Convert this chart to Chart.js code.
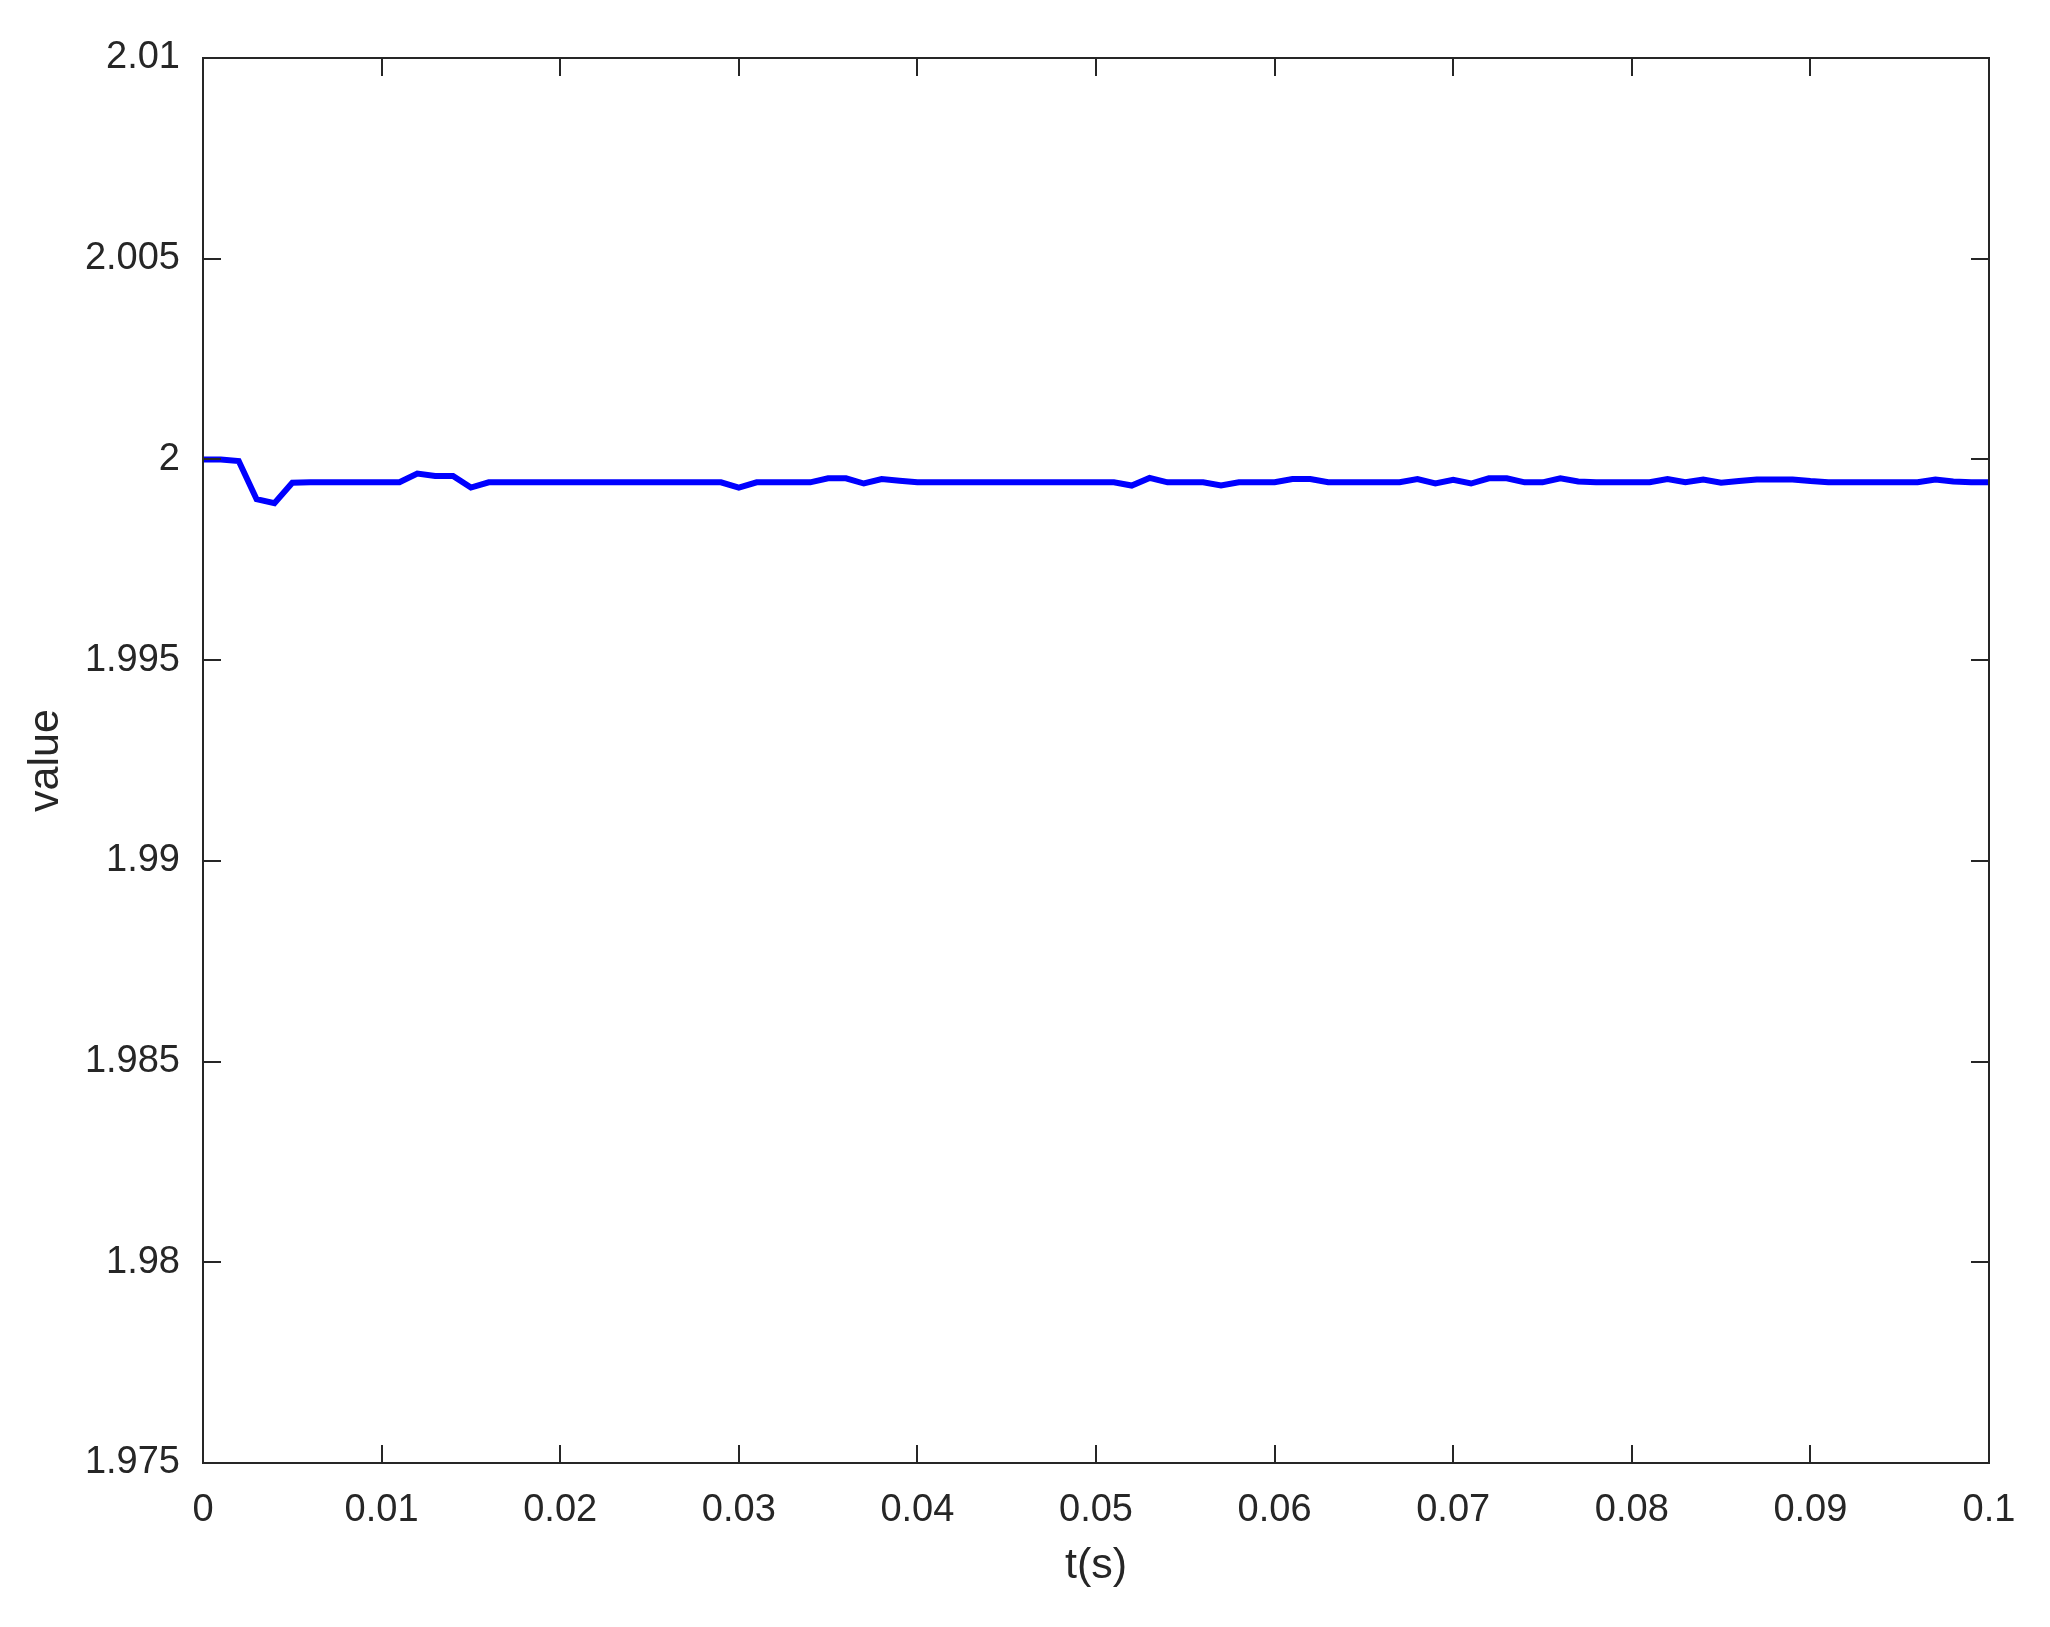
<!DOCTYPE html>
<html>
<head>
<meta charset="utf-8">
<script src="https://cdn.jsdelivr.net/npm/chart.js@4.4.0/dist/chart.umd.min.js"></script>
<style>
    html, body { margin: 0; padding: 0; background: #ffffff; }
    #plot { display: block; }
</style>
</head>
<body>
<canvas id="plot" width="2050" height="1627"></canvas>
<script>
// samples every 1 ms
const signalValues = [
    2.0000, 2.0000, 1.99996, 1.99901, 1.99891, 1.99942, 1.99943, 1.99943, 1.99943, 1.99943,
    1.99943, 1.99943, 1.99965, 1.99959, 1.99959, 1.99930, 1.99943, 1.99943, 1.99943, 1.99943,
    1.99943, 1.99943, 1.99943, 1.99943, 1.99943, 1.99943, 1.99943, 1.99943, 1.99943, 1.99943,
    1.99930, 1.99943, 1.99943, 1.99943, 1.99943, 1.99953, 1.99953, 1.99940, 1.99951, 1.99947,
    1.99943, 1.99943, 1.99943, 1.99943, 1.99943, 1.99943, 1.99943, 1.99943, 1.99943, 1.99943,
    1.99943, 1.99943, 1.99935, 1.99954, 1.99943, 1.99943, 1.99943, 1.99935, 1.99943, 1.99943,
    1.99943, 1.99951, 1.99951, 1.99943, 1.99943, 1.99943, 1.99943, 1.99943, 1.99951, 1.99940,
    1.99949, 1.99940, 1.99953, 1.99953, 1.99943, 1.99943, 1.99953, 1.99945, 1.99943, 1.99943,
    1.99943, 1.99943, 1.99951, 1.99943, 1.99950, 1.99942, 1.99946, 1.99950, 1.99950, 1.99950,
    1.99946, 1.99943, 1.99943, 1.99943, 1.99943, 1.99943, 1.99943, 1.99950, 1.99945, 1.99943,
    1.99943
];
const sampleStep = 0.001;
const timeValues = signalValues.map((_, i) => i * sampleStep);

const xTicks = [0, 0.01, 0.02, 0.03, 0.04, 0.05, 0.06, 0.07, 0.08, 0.09, 0.1];
const yTicks = [1.975, 1.98, 1.985, 1.99, 1.995, 2, 2.005, 2.01];

const xTitle = 't(s)';
const yTitle = 'value';

const axisColor = '#262626';
const fontFamily = '"Liberation Sans", Arial, sans-serif';
const tickFontSize = 38;
const titleFontSize = 43;
const tickLen = 18;

// MATLAB style box with inward ticks on all sides
const boxTicks = {
    id: 'boxTicks',
    afterDraw(chart) {
        const { ctx, chartArea: a, scales: { x, y } } = chart;
        ctx.save();
        ctx.strokeStyle = axisColor;
        ctx.lineWidth = 2;
        ctx.beginPath();
        x.ticks.forEach(t => {
            const px = Math.round(x.getPixelForValue(t.value));
            ctx.moveTo(px, a.bottom); ctx.lineTo(px, a.bottom - tickLen);
            ctx.moveTo(px, a.top); ctx.lineTo(px, a.top + tickLen);
        });
        y.ticks.forEach(t => {
            const py = Math.round(y.getPixelForValue(t.value));
            ctx.moveTo(a.left, py); ctx.lineTo(a.left + tickLen, py);
            ctx.moveTo(a.right, py); ctx.lineTo(a.right - tickLen, py);
        });
        ctx.stroke();
        ctx.strokeRect(a.left, a.top, a.right - a.left, a.bottom - a.top);
        ctx.restore();
    }
};

new Chart(document.getElementById('plot'), {
    type: 'line',
    data: {
        datasets: [{
            data: timeValues.map((t, i) => ({ x: t, y: signalValues[i] })),
            borderColor: '#0000ff',
            borderWidth: 6,
            pointRadius: 0,
            tension: 0,
            fill: false
        }]
    },
    options: {
        responsive: false,
        devicePixelRatio: 1,
        animation: false,
        layout: { padding: { left: 0, top: 58, right: 61, bottom: 0 } },
        plugins: {
            legend: { display: false },
            tooltip: { enabled: false }
        },
        scales: {
            x: {
                type: 'linear',
                min: 0,
                max: 0.1,
                afterBuildTicks: s => { s.ticks = xTicks.map(v => ({ value: v })); },
                afterFit: s => { s.height = 164; },
                grid: { display: true, drawOnChartArea: false, drawTicks: false },
                border: { display: false },
                ticks: {
                    color: axisColor,
                    padding: 25,
                    maxRotation: 0,
                    autoSkip: false,
                    font: { family: fontFamily, size: tickFontSize },
                    callback: v => String(Number(v.toFixed(3)))
                },
                title: {
                    display: true,
                    text: xTitle,
                    color: axisColor,
                    padding: { top: 0, bottom: 35 },
                    font: { family: fontFamily, size: titleFontSize }
                }
            },
            y: {
                type: 'linear',
                min: 1.975,
                max: 2.01,
                afterBuildTicks: s => { s.ticks = yTicks.map(v => ({ value: v })); },
                afterFit: s => { s.width = 203; },
                grid: { display: true, drawOnChartArea: false, drawTicks: false },
                border: { display: false },
                ticks: {
                    color: axisColor,
                    padding: 23,
                    autoSkip: false,
                    font: { family: fontFamily, size: tickFontSize },
                    callback: v => String(Number(v.toFixed(3)))
                },
                title: {
                    display: true,
                    text: yTitle,
                    color: axisColor,
                    padding: { top: 20, bottom: 0 },
                    font: { family: fontFamily, size: titleFontSize }
                }
            }
        }
    },
    plugins: [boxTicks]
});
</script>
</body>
</html>
